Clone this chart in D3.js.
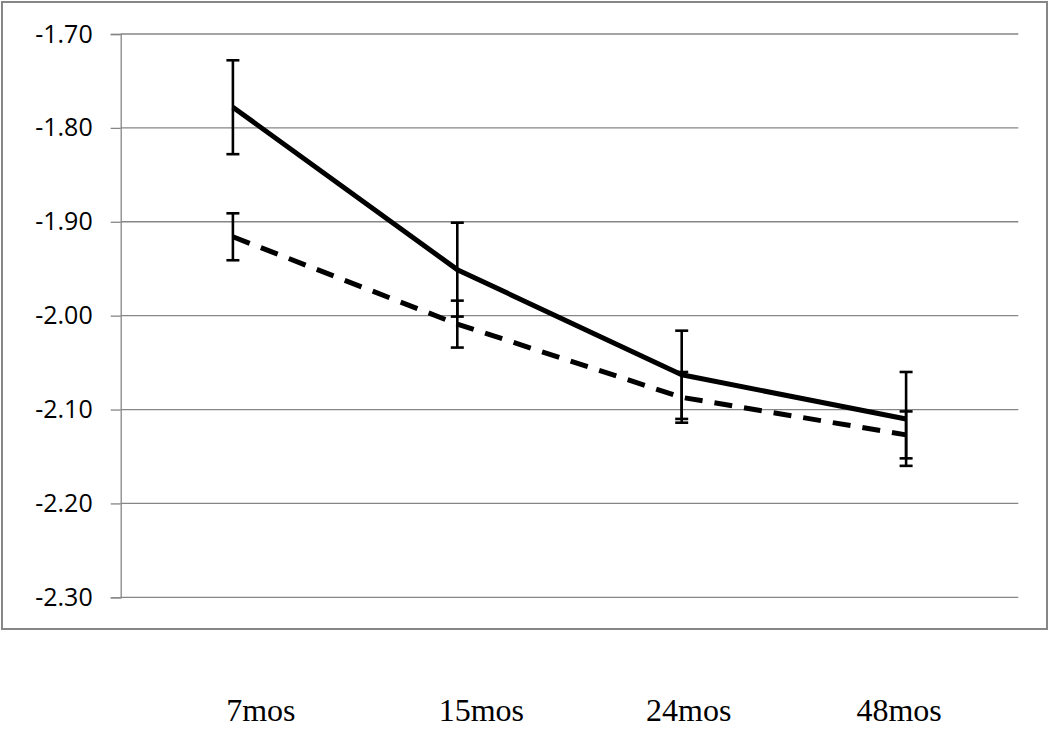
<!DOCTYPE html>
<html>
<head>
  <meta charset="utf-8">
  <style>
    body { margin: 0; background: #fff; }
  </style>
  <title>Line chart with error bars</title>
</head>
<body>
  <script src="https://cdn.jsdelivr.net/npm/d3@7"></script>
  <script>
    // data
    var categories = ['7mos', '15mos', '24mos', '48mos'];
    var solidValues = [-1.778, -1.951, -2.063, -2.110];
    var solidErrors = [0.050, 0.050, 0.047, 0.050];
    var dashedValues = [-1.916, -2.009, -2.087, -2.127];
    var dashedErrors = [0.025, 0.025, 0.027, 0.025];
    var yTicks = [-1.70, -1.80, -1.90, -2.00, -2.10, -2.20, -2.30];

    // the category labels sit a little off the band centres in the original
    var labelDx = [28, 24, 7, -7];

    var width = 1050;
    var height = 731;
    var plot = { left: 120.7, right: 1018.3, top: 34, bottom: 597.3 };

    var svg = d3.select('body').append('svg')
      .attr('width', width)
      .attr('height', height);

    // outer frame
    svg.append('rect')
      .attr('x', 2).attr('y', 2)
      .attr('width', 1045).attr('height', 627)
      .attr('fill', 'none')
      .attr('stroke', '#868686')
      .attr('stroke-width', 2);

    var xScale = d3.scaleBand()
      .domain(categories)
      .range([plot.left, plot.right]);

    var yScale = d3.scaleLinear()
      .domain([-2.30, -1.70])
      .range([plot.bottom, plot.top]);

    // gridlines
    svg.append('g')
      .attr('id', 'grid')
      .selectAll('line').data(yTicks)
      .enter().append('line')
      .attr('x1', plot.left).attr('x2', plot.right)
      .attr('y1', function(d) { return yScale(d); })
      .attr('y2', function(d) { return yScale(d); })
      .attr('stroke', '#868686')
      .attr('stroke-width', 1.3);

    // y axis
    var yAxis = d3.axisLeft(yScale)
      .tickValues(yTicks)
      .tickFormat(d3.format('.2f'))
      .tickSize(10)
      .tickPadding(18);

    var yg = svg.append('g')
      .attr('id', 'y_axis')
      .attr('transform', 'translate(' + plot.left + ',0)')
      .call(yAxis);
    yg.select('.domain').attr('stroke', '#868686').attr('stroke-width', 1.3);
    yg.selectAll('.tick line').attr('stroke', '#868686').attr('stroke-width', 1.3);
    yg.selectAll('.tick text')
      .attr('fill', '#000')
      .style('font-family', '"Open Sans", "Liberation Sans", sans-serif')
      .style('font-size', '25px')
      .text(function(d) { return d3.format('.2f')(d).replace('−', '-'); });

    // x labels
    svg.append('g')
      .attr('id', 'x_labels')
      .selectAll('text').data(categories)
      .enter().append('text')
      .attr('x', function(d, i) { return xScale(d) + xScale.bandwidth() / 2 + labelDx[i]; })
      .attr('y', 721)
      .attr('text-anchor', 'middle')
      .style('font-family', '"Liberation Serif", "Times New Roman", serif')
      .style('font-size', '32px')
      .attr('fill', '#000')
      .text(function(d) { return d; });

    function cx(i) { return xScale(categories[i]) + xScale.bandwidth() / 2; }

    function drawErrorBars(values, errors, id) {
      var g = svg.append('g').attr('id', id);
      var rows = values.map(function(v, i) { return { i: i, v: v, e: errors[i] }; });
      g.selectAll('line.stem').data(rows).enter().append('line')
        .attr('class', 'stem')
        .attr('x1', function(d) { return cx(d.i); })
        .attr('x2', function(d) { return cx(d.i); })
        .attr('y1', function(d) { return yScale(d.v + d.e); })
        .attr('y2', function(d) { return yScale(d.v - d.e); })
        .attr('stroke', '#000').attr('stroke-width', 2.6);
      [1, -1].forEach(function(s) {
        g.selectAll('line.cap' + (s > 0 ? 'top' : 'bot')).data(rows).enter().append('line')
          .attr('x1', function(d) { return cx(d.i) - 6.5; })
          .attr('x2', function(d) { return cx(d.i) + 6.5; })
          .attr('y1', function(d) { return yScale(d.v + s * d.e); })
          .attr('y2', function(d) { return yScale(d.v + s * d.e); })
          .attr('stroke', '#000').attr('stroke-width', 2.6);
      });
    }

    var line = d3.line()
      .x(function(d, i) { return cx(i); })
      .y(function(d) { return yScale(d); });

    drawErrorBars(dashedValues, dashedErrors, 'dashed_err');
    drawErrorBars(solidValues, solidErrors, 'solid_err');

    svg.append('path')
      .datum(dashedValues)
      .attr('d', line)
      .attr('fill', 'none')
      .attr('stroke', '#000')
      .attr('stroke-width', 5)
      .attr('stroke-dasharray', '18,12');

    svg.append('path')
      .datum(solidValues)
      .attr('d', line)
      .attr('fill', 'none')
      .attr('stroke', '#000')
      .attr('stroke-width', 5)
      .attr('stroke-linejoin', 'round');
  </script>
</body>
</html>
